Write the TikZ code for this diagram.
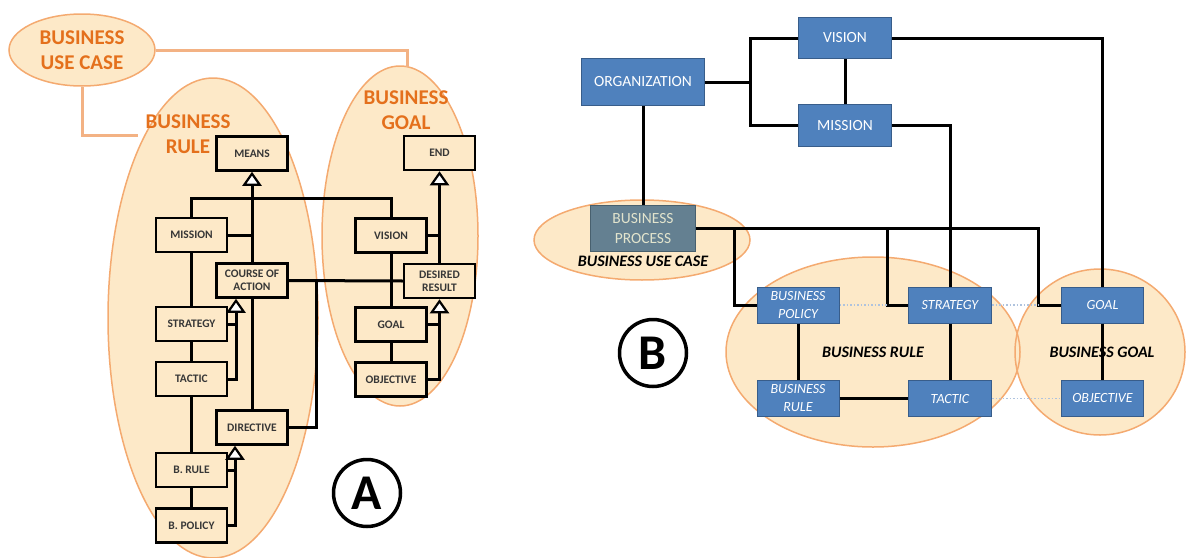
\documentclass[tikz,border=0pt]{standalone}
\usepackage{fontspec}
\setmainfont{Carlito}
\usetikzlibrary{arrows.meta,shapes.geometric}

\definecolor{peach}{RGB}{253,233,200}
\definecolor{ellline}{RGB}{244,170,112}
\definecolor{orangetxt}{RGB}{228,112,28}
\definecolor{bucline}{RGB}{243,178,132}
\definecolor{boxtxt}{RGB}{55,55,55}
\definecolor{bluefill}{RGB}{79,129,189}
\definecolor{blueline}{RGB}{56,93,138}
\definecolor{slatefill}{RGB}{100,128,145}
\definecolor{slateline}{RGB}{72,96,110}
\definecolor{slatetxt}{RGB}{226,228,205}
\definecolor{dotblue}{RGB}{175,195,222}

\tikzset{
  conn/.style={line width=3pt, black},
  bucconn/.style={line width=3pt, bucline},
  dots/.style={line width=1.5pt, dotblue, dotted},
  hollow/.style={-{Triangle[fill=white,width=19pt,length=14pt,line width=2.2pt]}},
  region/.style={fill=peach},
  regionedge/.style={draw=ellline, line width=1.5pt},
  abox/.style={draw=black, line width=2.5pt, fill=peach, minimum width=71,
    minimum height=34, inner sep=0, text=boxtxt, align=center,
    font=\fontsize{11.5}{13}\selectfont\bfseries},
  btop/.style={draw=blueline, line width=1pt, fill=bluefill, inner sep=0,
    text=white, align=center, font=\fontsize{15.5}{20}\selectfont},
  bitem/.style={draw=blueline, line width=1pt, fill=bluefill, inner sep=0,
    text=white, align=center, minimum width=82, minimum height=36,
    font=\fontsize{14}{18}\selectfont\itshape},
  slatebox/.style={draw=slateline, line width=1pt, fill=slatefill, inner sep=0,
    text=slatetxt, align=center, font=\fontsize{15.5}{20}\selectfont},
  titleA/.style={text=orangetxt, align=center, inner sep=0,
    font=\fontsize{21}{25}\selectfont\bfseries},
  titleB/.style={text=black, inner sep=0,
    font=\fontsize{16}{18}\selectfont\bfseries\itshape},
  marker/.style={draw=black, circle, line width=3.5pt, minimum size=67, inner sep=0,
    font=\fontsize{50}{50}\selectfont\bfseries}
}

\begin{document}
\begin{tikzpicture}[x=1pt,y=-1pt]
\useasboundingbox (0,0) rectangle (1186,557);

% ---------- regions (fills first, then outlines) ----------
\fill[region] (213,318) ellipse [x radius=105, y radius=240];
\fill[region] (400,236) ellipse [x radius=78, y radius=170];
\fill[region] (642,240) ellipse [x radius=108, y radius=40];
\fill[region] (873,352) ellipse [x radius=147, y radius=95];
\fill[region] (1100,352) ellipse [x radius=85, y radius=83];
\draw[regionedge] (213,318) ellipse [x radius=105, y radius=240];
\draw[regionedge] (400,236) ellipse [x radius=78, y radius=170];
\draw[regionedge] (642,240) ellipse [x radius=108, y radius=40];
\draw[regionedge] (873,352) ellipse [x radius=147, y radius=95];
\draw[regionedge] (1100,352) ellipse [x radius=85, y radius=83];

% ---------- part A ----------
\node[ellipse, fill=peach, draw=ellline, line width=1.5pt, minimum width=146,
      minimum height=72, inner sep=0, titleA] (bucA) at (82,50) {BUSINESS\\USE CASE};
\coordinate (bgAtop) at (407,67);
\coordinate (brAedge) at (138,135);
\draw[bucconn] (bucA.east) -| (bgAtop);
\draw[bucconn] (bucA.south) |- (brAedge);

\node[titleA] (brAlabel) at (188,134.5) {BUSINESS\\RULE};
\node[titleA] (bgAlabel) at (406,110) {BUSINESS\\GOAL};

\node[abox] (means) at (252,153.5) {MEANS};
\node[abox] (missionA) at (191.5,235) {MISSION};
\node[abox] (course) at (252,280.5) {COURSE OF\\ACTION};
\node[abox] (strategyA) at (191.5,324) {STRATEGY};
\node[abox] (tacticA) at (191.5,379) {TACTIC};
\node[abox] (directive) at (252,427.5) {DIRECTIVE};
\node[abox] (bruleA) at (191.5,470) {B. RULE};
\node[abox] (bpolicyA) at (191.5,525.5) {B. POLICY};
\node[abox] (endA) at (439.5,153) {END};
\node[abox] (visionA) at (391,235.5) {VISION};
\node[abox] (desired) at (439.5,281) {DESIRED\\RESULT};
\node[abox] (goalA) at (391,324.5) {GOAL};
\node[abox] (objA) at (391,379.5) {OBJECTIVE};

\coordinate (topbar) at (0,198);
\coordinate (c1) at (236,0);
\coordinate (c2) at (235,0);
\coordinate (j1) at (316,0);

\draw[conn,hollow] (course.north) -- (means.south);
\draw[conn] (missionA.east) -- (missionA.east -| means.south);
\draw[conn] (missionA.north) |- (visionA.north |- topbar) -- (visionA.north);
\draw[conn] (missionA.south) -- (strategyA.north);
\draw[conn] (strategyA.south) -- (tacticA.north);
\draw[conn] (tacticA.south) -- (bruleA.north);
\draw[conn] (bruleA.south) -- (bpolicyA.north);
\draw[conn,hollow] (tacticA.east) -| (c1 |- course.south);
\draw[conn] (strategyA.east) -- (strategyA.east -| c1);
\draw[conn] (course.south) -- (directive.north);
\draw[conn] (course.east) -- (desired.west);
\draw[conn] (directive.east) -| (j1 |- course.east);
\draw[conn,hollow] (bpolicyA.east) -| (c2 |- directive.south);
\draw[conn] (bruleA.east) -- (bruleA.east -| c2);
\draw[conn,hollow] (desired.north) -- (endA.south);
\draw[conn] (visionA.east) -- (visionA.east -| endA.south);
\draw[conn] (visionA.south) -- (goalA.north);
\draw[conn] (goalA.south) -- (objA.north);
\draw[conn,hollow] (objA.east) -| (desired.south);
\draw[conn] (goalA.east) -- (goalA.east -| desired.south);

\node[marker] (markA) at (367,493) {A};

% ---------- part B ----------
\node[titleB] (bucBlabel) at (643,261) {BUSINESS USE CASE};
\node[titleB] (brBlabel) at (873,352) {BUSINESS RULE};
\node[titleB] (bgBlabel) at (1102,352) {BUSINESS GOAL};

\node[btop, minimum width=123, minimum height=47] (org) at (643,82) {ORGANIZATION};
\node[btop, minimum width=93, minimum height=41] (visionB) at (845,38) {VISION};
\node[btop, minimum width=93, minimum height=42] (missionB) at (845,125.5) {MISSION};
\node[slatebox, minimum width=105, minimum height=46] (process) at (643,228.5) {BUSINESS\\PROCESS};
\node[bitem] (bpolicyB) at (798,305) {BUSINESS\\POLICY};
\node[bitem, minimum width=83] (strategyB) at (950,305) {STRATEGY};
\node[bitem] (goalB) at (1102.5,305) {GOAL};
\node[bitem] (bruleB) at (798,398.5) {BUSINESS\\RULE};
\node[bitem, minimum width=83] (tacticB) at (950,398.5) {TACTIC};
\node[bitem] (objB) at (1102.5,398.5) {OBJECTIVE};

\coordinate (ob) at (750,0);
\coordinate (bx1) at (734,0);
\coordinate (bx2) at (887,0);
\coordinate (bx3) at (1038,0);

\draw[conn] (org.east) -- (ob |- org.east);
\draw[conn] (visionB.west) -| (ob |- missionB.west) -- (missionB.west);
\draw[conn] (visionB.south) -- (missionB.north);
\draw[conn] (org.south) -- (process.north);
\draw[conn] (process.east) -- (bx3 |- process.east) |- (goalB.west);
\draw[conn] (bx1 |- process.east) |- (bpolicyB.west);
\draw[conn] (bx2 |- process.east) |- (strategyB.west);
\draw[conn] (missionB.east) -| (strategyB.north);
\draw[conn] (visionB.east) -| (goalB.north);
\draw[conn] (bpolicyB.south) -- (bruleB.north);
\draw[conn] (bruleB.east) -- (tacticB.west);
\draw[conn] (strategyB.south) -- (tacticB.north);
\draw[conn] (goalB.south) -- (objB.north);
\draw[dots] (bpolicyB.east) -- (bx2 |- bpolicyB.east);
\draw[dots] (strategyB.east) -- (bx3 |- strategyB.east);
\draw[dots] (tacticB.east) -- (objB.west);

\node[marker] (markB) at (653,353) {B};
\end{tikzpicture}
\end{document}
